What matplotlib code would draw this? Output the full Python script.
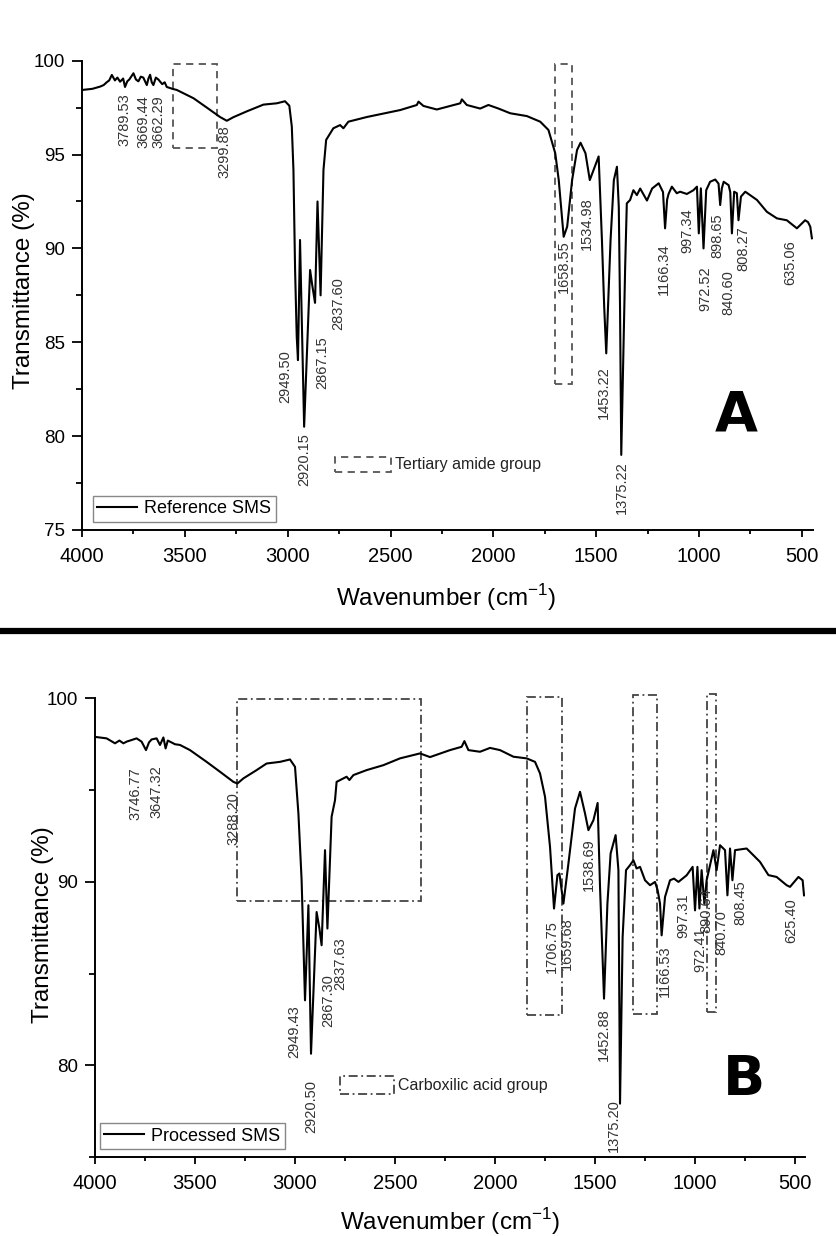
import numpy as np
import matplotlib.pyplot as plt
from matplotlib.patches import Rectangle
from matplotlib.lines import Line2D
from matplotlib.ticker import MultipleLocator

plt.rcParams['font.family'] = ['Liberation Sans', 'DejaVu Sans']
plt.rcParams['mathtext.fontset'] = 'custom'
plt.rcParams['mathtext.rm'] = 'Liberation Sans'

# ---- spectrum A : reference SMS (wavenumber, transmittance) ----
wn_a = [4000, 3950, 3912, 3895, 3880, 3868, 3855, 3840, 3828, 3815, 3800, 3791, 3780, 3770,
        3750, 3738, 3726, 3714, 3702, 3685, 3677, 3669, 3661, 3653, 3641, 3629, 3610, 3598,
        3588, 3560, 3539, 3458, 3393, 3329,
        3296, 3264, 3199, 3118, 3053, 3013, 2992, 2980, 2972, 2964, 2956, 2950,
        2940, 2920, 2891, 2880, 2867, 2855, 2840, 2826, 2813, 2778, 2745, 2729,
        2705, 2615, 2453, 2372, 2364, 2340, 2275, 2161, 2153, 2129, 2064, 2024,
        1975, 1918, 1837, 1772, 1732, 1708, 1699, 1682, 1658, 1641, 1617, 1593,
        1576, 1552, 1531, 1512, 1488, 1472, 1461, 1451, 1430, 1414, 1399, 1390,
        1384, 1378, 1359, 1351, 1335, 1319, 1302, 1286, 1253, 1228, 1196, 1175,
        1165, 1155, 1148, 1132, 1108, 1092, 1059, 1027, 1010, 1001, 991, 978,
        965, 946, 921, 905, 897, 889, 880, 856, 848, 840, 829, 816, 808, 796,
        775, 718, 670, 621, 573, 524, 484, 470, 459, 451]
tr_a = [98.44, 98.5, 98.62, 98.7, 98.85, 98.95, 99.24, 98.95, 99.1, 98.88, 99.05, 98.6, 98.9, 99.0,
        99.33, 99.0, 98.9, 99.15, 99.1, 98.7, 99.05, 99.25, 98.85, 98.7, 99.1, 99.0, 98.75, 98.85,
        98.6, 98.5, 98.44, 98.0, 97.5, 97.0,
        96.8, 96.99, 97.3, 97.66, 97.73, 97.84, 97.6, 96.5, 94.17, 88.85, 85.3, 84.05,
        90.45, 80.5, 88.85, 88.0, 87.1, 92.5, 87.5, 94.18, 95.78, 96.4, 96.57, 96.4,
        96.75, 97.0, 97.37, 97.64, 97.82, 97.59, 97.4, 97.73, 97.94, 97.64, 97.45, 97.64,
        97.45, 97.2, 97.05, 96.75, 96.31, 95.42, 95.07, 93.64, 90.62, 91.16, 93.64, 95.24,
        95.63, 95.07, 93.64, 94.2, 94.9, 90.45, 86.9, 84.41, 90.45, 93.64, 94.35, 92.2,
        86.9, 79.0, 89.03, 92.4, 92.58, 93.1, 92.84, 93.19, 92.55, 93.19, 93.47, 93.0,
        91.07, 92.6, 92.9, 93.29, 92.94, 93.02, 92.9, 93.1, 93.29, 90.8, 93.2, 90.0,
        93.1, 93.55, 93.67, 93.45, 92.31, 93.2, 93.55, 93.37, 93.0, 90.8, 93.02, 92.94, 91.5, 92.76,
        93.02, 92.58, 91.95, 91.6, 91.5, 91.07, 91.5, 91.4, 91.16, 90.54]

# ---- spectrum B : processed SMS ----
wn_b = [4000, 3942, 3900, 3878, 3858, 3840, 3825, 3792, 3767, 3745, 3730, 3717, 3692, 3675, 3658,
        3647, 3636, 3625, 3600, 3575, 3525, 3442, 3375, 3308, 3288, 3258, 3192, 3142, 3075,
        3025, 3000, 2983, 2967, 2950, 2933, 2920, 2892, 2878, 2867, 2850, 2838,
        2817, 2800, 2792, 2742, 2728, 2708, 2642, 2558, 2475, 2375, 2325, 2225,
        2167, 2153, 2133, 2075, 2025, 1975, 1908, 1842, 1800, 1775, 1750, 1725,
        1705, 1688, 1678, 1658, 1633, 1600, 1575, 1550, 1533, 1508, 1487, 1475,
        1463, 1455, 1438, 1422, 1397, 1383, 1375, 1362, 1345, 1325, 1308, 1292,
        1275, 1250, 1225, 1200, 1187, 1175, 1167, 1150, 1125, 1105, 1083, 1042,
        1012, 1000, 988, 978, 967, 953, 942, 925, 908, 892, 875, 850, 838, 825,
        813, 800, 742, 708, 675, 633, 592, 542, 525, 483, 462, 455]
tr_b = [97.9, 97.82, 97.55, 97.7, 97.55, 97.65, 97.7, 97.82, 97.64, 97.18, 97.6, 97.76, 97.82, 97.46, 97.87,
        97.27, 97.7, 97.64, 97.5, 97.46, 97.18, 96.54, 96.0, 95.45, 95.36, 95.64, 96.09, 96.45, 96.54,
        96.67, 96.27, 93.73, 90.1, 83.55, 88.73, 80.64, 88.36, 87.46, 86.55, 91.73, 87.46,
        93.55, 94.45, 95.45, 95.73, 95.55, 95.82, 96.09, 96.36, 96.73, 97.0, 96.8, 97.18,
        97.36, 97.67, 97.18, 97.09, 97.3, 97.18, 96.82, 96.73, 96.54, 95.91, 94.64, 91.91,
        88.55, 90.37, 90.46, 88.82, 91.0, 94.0, 94.91, 93.73, 92.82, 93.36, 94.3, 89.73,
        86.1, 83.64, 88.82, 91.55, 92.55, 90.64, 77.92, 87.0, 90.64, 90.91, 91.18, 90.73,
        90.82, 90.09, 89.82, 90.0, 89.55, 88.82, 87.09, 89.18, 90.09, 90.18, 90.0, 90.36,
        90.82, 88.45, 90.82, 88.55, 90.64, 88.8, 90.09, 90.91, 91.73, 90.64, 92.0, 91.73, 89.27, 91.82,
        90.09, 91.73, 91.82, 91.45, 91.09, 90.37, 90.27, 89.82, 89.73, 90.27, 90.09, 89.27]

# ---- peak labels (text, x of label, top of label) ----
lab_a = ['3789.53', '3669.44', '3662.29', '3299.88', '2949.50', '2920.15', '2867.15',
         '2837.60', '1658.55', '1534.98', '1453.22', '1375.22', '1166.34', '997.34',
         '972.52', '898.65', '840.60', '808.27', '635.06']
lab_a_x = [3796, 3700, 3630, 3309, 3013, 2920, 2834, 2753, 1658, 1546, 1461, 1375,
           1172, 1056, 970, 913, 856, 784, 556]
lab_a_y = [98.26, 98.17, 98.17, 96.57, 84.59, 80.15, 85.3, 88.49, 90.45, 92.75, 83.7,
           78.64, 90.27, 92.14, 89.03, 91.87, 88.85, 91.16, 90.45]

lab_b = ['3746.77', '3647.32', '3288.20', '2949.43', '2920.50', '2867.30', '2837.63',
         '1706.75', '1659.68', '1538.69', '1452.88', '1375.20', '1166.53', '997.31',
         '972.41', '890.64', '840.70', '808.45', '625.40']
lab_b_x = [3800, 3692, 3308, 3003, 2917, 2833, 2775, 1717, 1642, 1533, 1458, 1405,
           1150, 1058, 975, 942, 867, 775, 517]
lab_b_y = [96.27, 96.36, 94.91, 83.28, 79.19, 85.0, 87.0, 87.91, 88.09, 92.36, 83.1,
           78.19, 86.55, 89.37, 87.55, 89.64, 88.46, 90.09, 89.09]

# ---- highlighted regions (x0, x1, y0, y1) ----
boxes_a = [(3559, 3342, 95.33, 99.82), (1699, 1618, 82.8, 99.8)]
boxes_b = [(3292, 2371, 88.95, 99.96), (1838, 1666, 82.73, 100.05),
           (1308, 1191, 82.8, 100.18), (941, 895, 82.9, 100.23)]

fig = plt.figure(figsize=(8.37, 12.36), dpi=100)
ax_a = fig.add_axes([0.098, 0.5712, 0.873, 0.3797])
ax_b = fig.add_axes([0.1135, 0.0637, 0.8483, 0.3713])

def style(ax, xlim, ymaj, ymin_):
    ax.set_xlim(*xlim)
    ax.set_ylim(75, 100)
    for s in ['top', 'right']:
        ax.spines[s].set_visible(False)
    for s in ['left', 'bottom']:
        ax.spines[s].set_linewidth(1.4)
    ax.xaxis.set_major_locator(MultipleLocator(500))
    ax.xaxis.set_minor_locator(MultipleLocator(250))
    ax.yaxis.set_major_locator(MultipleLocator(ymaj))
    ax.yaxis.set_minor_locator(MultipleLocator(ymin_))
    ax.tick_params(axis='x', which='major', direction='out', length=5, width=1.3, labelsize=14.5, pad=7)
    ax.tick_params(axis='x', which='minor', direction='out', length=3, width=1.3)
    ax.tick_params(axis='y', which='major', direction='out', length=7, width=1.3, labelsize=13.5, pad=5)
    ax.tick_params(axis='y', which='minor', direction='out', length=4, width=1.3)
    ax.set_xlabel('Wavenumber (cm$^{\\mathregular{-1}}$)', fontsize=17.5, va='center')
    ax.set_ylabel('Transmittance (%)', fontsize=17.5, va='center')

style(ax_a, (4000, 447), 5, 2.5)
style(ax_b, (4000, 450), 10, 5)
ax_a.xaxis.set_label_coords(0.498, -0.145)
ax_a.yaxis.set_label_coords(-0.079, 0.509)
ax_b.xaxis.set_label_coords(0.5, -0.141)
ax_b.yaxis.set_label_coords(-0.073, 0.508)

ax_a.plot(wn_a, tr_a, color='black', lw=1.5, label='Reference SMS')
ax_b.plot(wn_b, tr_b, color='black', lw=1.5, label='Processed SMS')

for ax, labs, lx, ly in [(ax_a, lab_a, lab_a_x, lab_a_y), (ax_b, lab_b, lab_b_x, lab_b_y)]:
    for t, x, y in zip(labs, lx, ly):
        ax.text(x, y, t, rotation=90, ha='center', va='top', fontsize=10.5, color='#333333')

for x0, x1, y0, y1 in boxes_a:
    ax_a.add_patch(Rectangle((x0, y0), x1 - x0, y1 - y0, fill=False, ls=(0, (4, 3)),
                             lw=1.3, ec='#555555', clip_on=False))
for x0, x1, y0, y1 in boxes_b:
    ax_b.add_patch(Rectangle((x0, y0), x1 - x0, y1 - y0, fill=False, ls=(0, (5, 2, 1, 2)),
                             lw=1.3, ec='#444444', clip_on=False))

# key for the boxes
ax_a.add_patch(Rectangle((2770, 78.1), -270, 0.8, fill=False, ls=(0, (4, 3)), lw=1.3, ec='#555555'))
ax_a.text(2480, 78.5, 'Tertiary amide group', fontsize=11.5, va='center', ha='left', color='#222222')
ax_b.add_patch(Rectangle((2775, 78.46), -272, 0.94, fill=False, ls=(0, (5, 2, 1, 2)), lw=1.3, ec='#444444'))
ax_b.text(2485, 78.93, 'Carboxilic acid group', fontsize=11.5, va='center', ha='left', color='#222222')

for ax, pos in [(ax_a, (0.0146, 0.0177)), (ax_b, (0.007, 0.0174))]:
    leg = ax.legend(loc='lower left', bbox_to_anchor=pos, borderaxespad=0, fontsize=13,
                    handlelength=2.2, handletextpad=0.4, borderpad=0.25, fancybox=False,
                    edgecolor='#888888', framealpha=1)
    leg.get_frame().set_linewidth(1.0)

ax_a.text(0.896, 0.244, 'A', transform=ax_a.transAxes, fontsize=40, fontweight='black',
          family='DejaVu Sans', ha='center', va='center')
ax_b.text(0.914, 0.169, 'B', transform=ax_b.transAxes, fontsize=40, fontweight='black',
          family='DejaVu Sans', ha='center', va='center')

# thick separator between the panels
fig.add_artist(Line2D([0.0, 1.0], [0.4895, 0.4895], transform=fig.transFigure,
                      color='black', lw=4.5))

fig.savefig('out.png', dpi=100)
